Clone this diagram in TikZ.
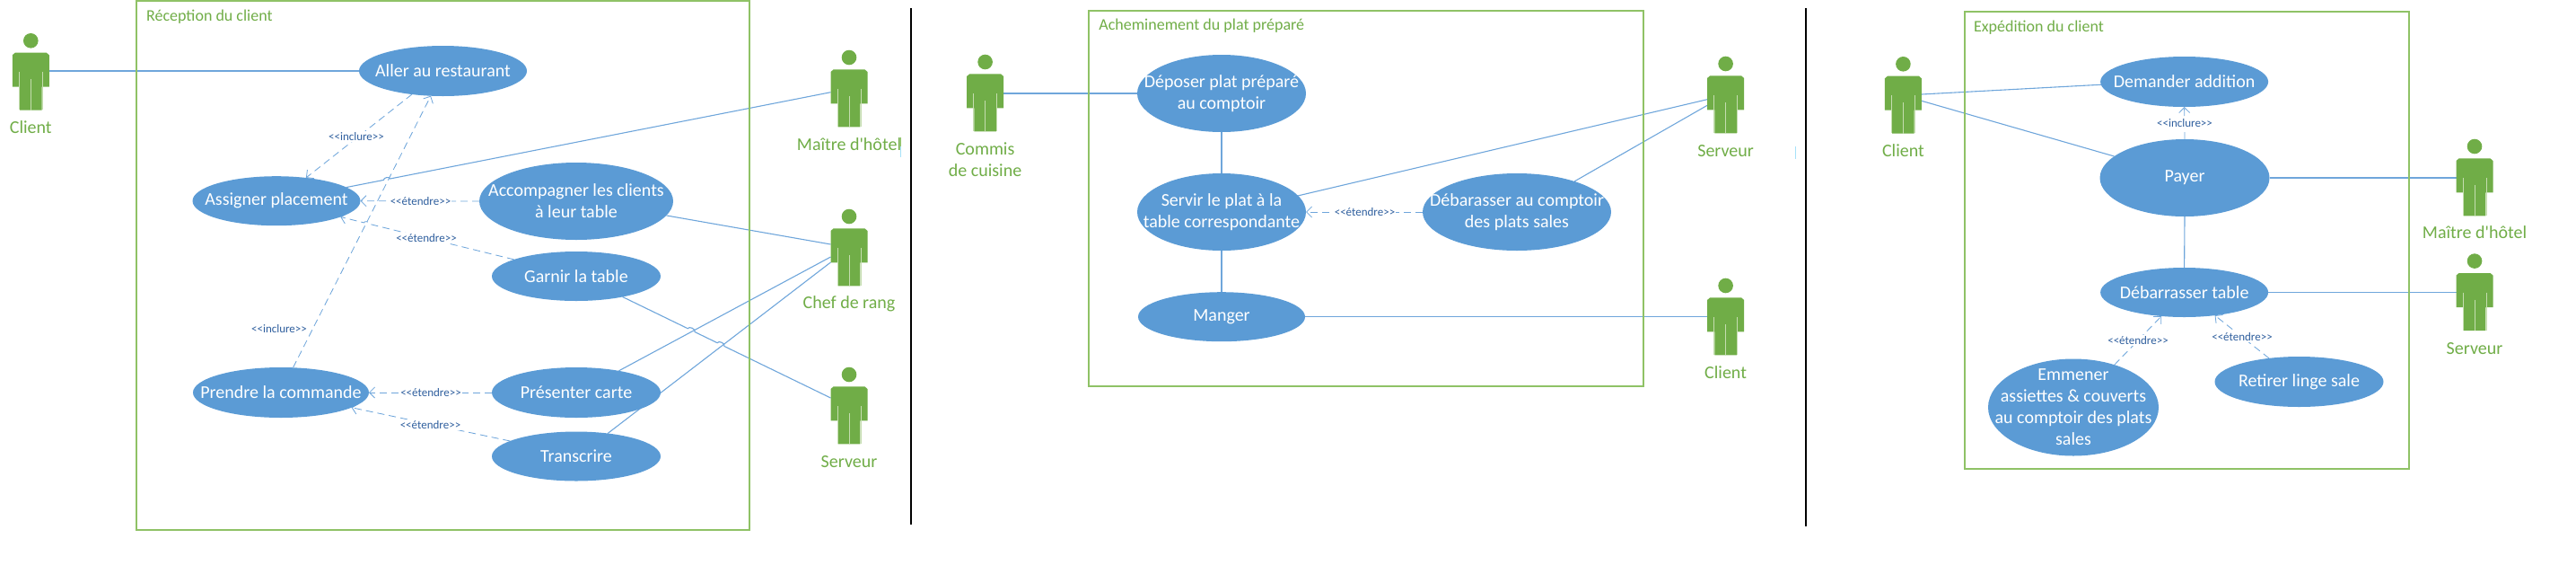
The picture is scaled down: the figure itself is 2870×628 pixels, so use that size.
\documentclass[tikz,border=0pt]{standalone}
\usepackage{fontspec}
\setmainfont{Carlito}[Ligatures=TeXOff]
\usetikzlibrary{arrows.meta,calc,shapes.geometric,backgrounds}
\definecolor{ucblue}{HTML}{5B9BD5}
\definecolor{actgreen}{HTML}{70AD47}
\definecolor{slit}{HTML}{C5DDB0}
\definecolor{framegreen}{HTML}{8FC266}
\definecolor{linkblue}{HTML}{6FA6DB}
\definecolor{lbltext}{HTML}{2F5F9E}
\def\pu{0.5pt}
\tikzset{
  ucshape/.style={ellipse,fill=ucblue,draw=none,inner sep=0pt,outer sep=0pt},
  uctext/.style={text=white,align=center,font=\fontsize{10}{12}\selectfont,inner sep=0pt},
  actbody/.style={inner sep=0pt,outer sep=0pt,minimum width=41*\pu,minimum height=64*\pu},
  actname/.style={text=actgreen,align=center,font=\fontsize{10}{12}\selectfont,inner sep=0pt},
  sysframe/.style={draw=framegreen,line width=0.55pt,inner sep=0pt,outer sep=0pt,anchor=north west},
  systitle/.style={text=actgreen,anchor=west,font=\fontsize{9}{11}\selectfont,inner sep=0pt},
  assoc/.style={draw=linkblue,line width=0.55pt},
  dep/.style={draw=linkblue,line width=0.42pt,dash pattern=on 4pt off 2.5pt,-{Straight Barb[length=3pt,width=6pt]}},
  deplbl/.style={text=lbltext,fill=white,inner sep=0.6pt,font=\fontsize{6.5}{7.5}\selectfont},
  divider/.style={draw=black,line width=0.7pt},
}
\newcommand{\usecase}[6]{%
  \node[ucshape,minimum width=2*#4*\pu,minimum height=2*#5*\pu] (#1) at (#2,#3) {};
  \node[uctext] (#1-t) at (#1.center) {#6};
}
\newcommand{\actor}[5]{% name, cx, head y, label y, label
  \begin{scope}[shift={(#2,#3)}]
    \fill[actgreen] (0,0) circle[radius=8.3*\pu];
    \fill[actgreen] (-20.5,51.4) -- (-20.5,16) -- (-17.5,13.4) -- (17.5,13.4) -- (20.5,16)
      -- (20.5,51.4) -- (12.3,51.4) -- (12.3,77.4) -- (-12.3,77.4) -- (-12.3,51.4) -- cycle;
    \draw[slit,line width=0.5pt] (-13,35) -- (-13,77) (13,35) -- (13,77) (0,43) -- (0,77.4);
  \end{scope}
  \node[actbody] (#1) at (#2,#3+45.4) {};
  \node[actname] (#1-l) at (#2,#4) {#5};
}
\begin{document}
\begin{tikzpicture}[x=0.5pt,y=-0.5pt]
\useasboundingbox (0,0) rectangle (2870,628);
% stray caret marks of the reference
\draw[framegreen,line width=0.5pt] (1003,153) -- (1003,163);
\draw[cyan!35,line width=0.5pt] (1003,163) -- (1003,175);
\draw[cyan!35,line width=0.5pt] (2000.3,163) -- (2000.3,177);

% ---------- frames and dividers
\node[sysframe,minimum width=683*\pu,minimum height=589*\pu] (f1) at (152,1) {};
\node[sysframe,minimum width=618*\pu,minimum height=418*\pu] (f2) at (1213,12) {};
\node[sysframe,minimum width=495*\pu,minimum height=509*\pu] (f3) at (2189,13) {};
\node[systitle] (f1-t) at (162.7,19) {Réception du client};
\node[systitle] (f2-t) at (1224,29) {Acheminement du plat préparé};
\node[systitle] (f3-t) at (2198.7,31) {Expédition du client};
\coordinate (d1a) at (1015,9); \coordinate (d1b) at (1015,584);
\coordinate (d2a) at (2012,9); \coordinate (d2b) at (2012,586);
\draw[divider] (d1a) -- (d1b);
\draw[divider] (d2a) -- (d2b);

% ---------- use cases
\usecase{aller}{493.5}{79}{93.5}{28}{Aller au restaurant}
\usecase{assign}{308}{223.7}{93.5}{27.5}{Assigner placement}
\usecase{accomp}{642}{224}{108}{43}{Accompagner les clients\\à leur table}
\usecase{garnir}{642}{307.5}{94}{27.5}{Garnir la table}
\usecase{prendre}{313}{437}{98}{28}{Prendre la commande}
\usecase{present}{642}{437}{94}{28}{Présenter carte}
\usecase{transc}{642}{508}{94}{27.5}{Transcrire}
\usecase{depos}{1361}{104}{94}{43}{Déposer plat préparé\\au comptoir}
\usecase{servir}{1361}{236}{94}{43}{Servir le plat à la\\table correspondante}
\usecase{debar}{1690}{236}{105}{43}{Débarasser au comptoir\\des plats sales}
\usecase{manger}{1361}{352.7}{93}{27.5}{Manger}
\usecase{addit}{2433.6}{91}{93.5}{28}{Demander addition}
\usecase{payer}{2434}{198}{94.5}{43}{Payer}
\usecase{debtab}{2433.6}{325.5}{93.5}{27.5}{Débarrasser table}
\usecase{emmen}{2310}{453.5}{95}{54}{Emmener\\assiettes \& couverts\\au comptoir des plats\\sales}
\usecase{linge}{2561.5}{425}{94}{28}{Retirer linge sale}

% ---------- actors
\actor{cli}{34.3}{45.3}{142}{Client}
\actor{mai}{946}{64}{161}{Maître d'hôtel}
\actor{chef}{946}{241}{338}{Chef de rang}
\actor{serv}{946}{417}{514}{Serveur}
\actor{comm}{1097.6}{69}{178}{Commis\\de cuisine}
\actor{servb}{1922.6}{71}{168}{Serveur}
\actor{clib}{1922.6}{318}{415}{Client}
\actor{clic}{2120.4}{71.3}{168}{Client}
\actor{maic}{2757}{163}{259}{Maître d'hôtel}
\actor{servc}{2757}{290.6}{388}{Serveur}

% ---------- connectors
\coordinate (c2a) at (assign.11.3);
\coordinate (c2b) at ([yshift=-25.3*\pu]mai.north west);
\coordinate (c4a) at (garnir.-24.5);
\coordinate (c4b) at ([yshift=-12.6*\pu]serv.north west);
\coordinate (d4a) at (garnir.165.8);
\coordinate (d4b) at (assign.-14.3);
\begin{pgfonlayer}{background}
  \draw[assoc] (cli.east |- aller.west) -- (aller.west);
  \draw[assoc] (c2a) -- ($(c2a)!.077!(c2b)$) to[bend left=90] ($(c2a)!.090!(c2b)$) -- (c2b);
  \draw[assoc] (accomp.-9.5) -- ([yshift=-17.6*\pu]chef.north west);
  \draw[assoc] (c4a) -- ($(c4a)!.313!(c4b)$) to[bend left=90] ($(c4a)!.347!(c4b)$)
     -- ($(c4a)!.455!(c4b)$) to[bend left=90] ($(c4a)!.489!(c4b)$) -- (c4b);
  \draw[assoc] (present.27.6) -- ([yshift=-31.6*\pu]chef.north west);
  \draw[assoc] (transc.36.9) -- ([yshift=-37.6*\pu]chef.north west);
  \draw[dep] (aller.217.8) -- (assign.38.5);
  \draw[dep] (prendre.64) -- (aller.244.3);
  \draw[dep] (accomp.west) -- (assign.east);
  \draw[dep] (d4a) -- ($(d4a)!.833!(d4b)$) to[bend right=90] ($(d4a)!.865!(d4b)$) -- (d4b);
  \draw[dep] (present.west) -- (prendre.east);
  \draw[dep] (transc.167.4) -- (prendre.-12.2);
  \draw[assoc] (comm.east |- depos.west) -- (depos.west);
  \draw[assoc] (depos.south) -- (servir.north);
  \draw[assoc] (servir.south) -- (manger.north);
  \draw[assoc] (servir.12.8) -- ([yshift=-26.3*\pu]servb.north west);
  \draw[assoc] (debar.28.9) -- ([yshift=-32.9*\pu]servb.north west);
  \draw[assoc] (manger.east) -- (manger.east -| clib.west);
  \draw[dep] (debar.west) -- (servir.east);
  \draw[assoc] ([yshift=-20.3*\pu]clic.north east) -- (addit.182.9);
  \draw[assoc] ([yshift=-27.6*\pu]clic.north east) -- (payer.163.3);
  \draw[assoc] (payer.east) -- (payer.east -| maic.west);
  \draw[assoc] (debtab.east) -- (debtab.east -| servc.west);
  \draw[assoc] (payer.south) -- (debtab.north);
  \draw[dep] (payer.north) -- (addit.south);
  \draw[dep] (emmen.46.2) -- (debtab.226.6);
  \draw[dep] (linge.142.8) -- (debtab.-37.6);
\end{pgfonlayer}

% ---------- connector labels
\node[deplbl] (l1) at (397,152) {<<inclure>>};
\node[deplbl] (l2) at (311,366) {<<inclure>>};
\node[deplbl] (l3) at (468.5,224) {<<étendre>>};
\node[deplbl] (l4) at (475,265) {<<étendre>>};
\node[deplbl] (l5) at (480,437) {<<étendre>>};
\node[deplbl] (l6) at (479.5,473) {<<étendre>>};
\node[deplbl] (l7) at (1520.5,236) {<<étendre>>};
\node[deplbl] (l8) at (2434,136.7) {<<inclure>>};
\node[deplbl] (l9) at (2382,379) {<<étendre>>};
\node[deplbl] (l10) at (2498,375) {<<étendre>>};
\end{tikzpicture}
\end{document}
